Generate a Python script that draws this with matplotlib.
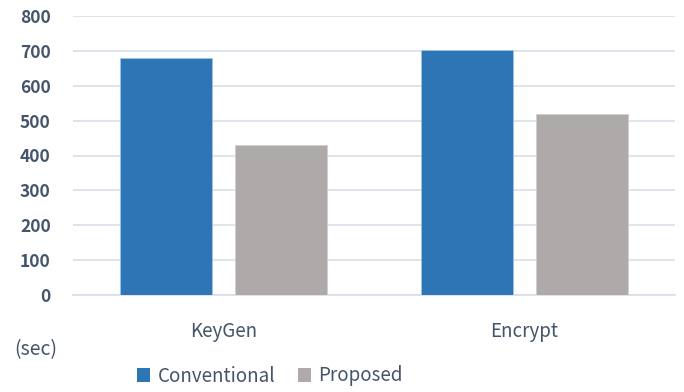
"""Execution time of KeyGen and Encrypt: conventional vs proposed."""

import matplotlib

matplotlib.use("Agg")

import matplotlib.pyplot as plt
import numpy as np
from matplotlib.patches import Patch

categories = ["KeyGen", "Encrypt"]
series_names = ["Conventional", "Proposed"]
conventional = [679, 703]
proposed = [429, 519]
y_ticks = [0, 100, 200, 300, 400, 500, 600, 700, 800]

BLUE = "#2E75B6"
GRAY = "#AEAAAA"
TEXT = "#44546A"

plt.rcParams["font.family"] = ["Noto Sans CJK KR", "DejaVu Sans"]

fig = plt.figure(figsize=(6.84, 3.92), dpi=100)
ax = fig.add_axes([73 / 684, 1 - 295 / 392, 602 / 684, 279 / 392])

x = np.arange(len(categories))
width = 0.306
offset = 0.191
ax.bar(x - offset, conventional, width, color=BLUE, edgecolor="#9DC3E6", linewidth=0.6, zorder=3)
ax.bar(x + offset, proposed, width, color=GRAY, edgecolor="#D0CECE", linewidth=0.6, zorder=3)

ax.set_xlim(-0.5, 1.5)
ax.set_ylim(0, 800)
ax.set_yticks(y_ticks)
ax.set_yticklabels([str(v) for v in y_ticks], fontsize=12.5, color=TEXT, fontweight="bold")
ax.set_xticks(x)
ax.set_xticklabels(categories, fontsize=13.5, color=TEXT)
ax.tick_params(axis="y", length=0, pad=16)
ax.tick_params(axis="x", length=0, pad=19)
ax.grid(axis="y", color="#D9DEE8", linewidth=1.2, zorder=0)
for side in ("top", "right", "left"):
    ax.spines[side].set_visible(False)
ax.spines["bottom"].set_color("#D9DEE8")
ax.spines["bottom"].set_linewidth(1.2)

fig.text(14 / 684, 1 - 350 / 392, "(sec)", fontsize=14, color=TEXT, va="center", ha="left")

handles = [Patch(facecolor=BLUE), Patch(facecolor=GRAY)]
fig.legend(handles, series_names, loc="center", bbox_to_anchor=(270 / 684, 1 - 376 / 392), ncol=2,
           frameon=False, fontsize=13.5, labelcolor=TEXT, handlelength=0.7, handleheight=0.7,
           handletextpad=0.4, columnspacing=1.2)

fig.savefig("out.png", dpi=100)
